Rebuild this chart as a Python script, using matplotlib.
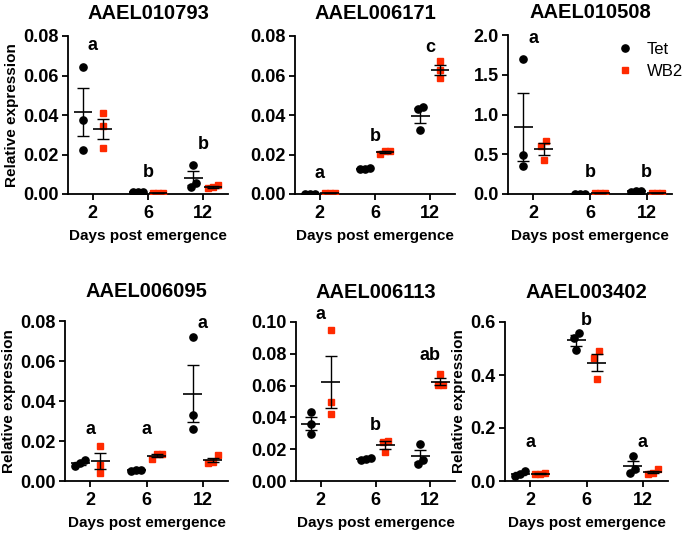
import numpy as np
import matplotlib
matplotlib.use("Agg")
import matplotlib.pyplot as plt

plt.rcParams["font.family"] = ["Liberation Sans", "DejaVu Sans"]
plt.rcParams["font.weight"] = "bold"

# dados
dias = ["2", "6", "12"]
genes = ["AAEL010793", "AAEL006171", "AAEL010508",
         "AAEL006095", "AAEL006113", "AAEL003402"]

tet = {
    "AAEL010793": [[0.0645, 0.0375, 0.0224], [0.0008, 0.0008, 0.0008], [0.0148, 0.0056, 0.0034]],
    "AAEL006171": [[0.0002, 0.0002, 0.0002], [0.0125, 0.0132, 0.0127], [0.0438, 0.0430, 0.0322]],
    "AAEL010508": [[1.698, 0.49, 0.348], [0.005, 0.005, 0.005], [0.030, 0.040, 0.035]],
    "AAEL006095": [[0.0103, 0.0073, 0.0088], [0.0052, 0.0055, 0.0053], [0.072, 0.033, 0.0262]],
    "AAEL006113": [[0.0434, 0.0356, 0.0294], [0.0136, 0.0147, 0.0134], [0.0231, 0.0105, 0.0130]],
    "AAEL003402": [[0.0176, 0.0365, 0.0277], [0.560, 0.540, 0.493], [0.0956, 0.044, 0.030]],
}
wb2 = {
    "AAEL010793": [[0.041, 0.0345, 0.0232], [0.0007, 0.0007, 0.0007], [0.0030, 0.0044, 0.0035]],
    "AAEL006171": [[0.0003, 0.0003, 0.0003], [0.0202, 0.0218, 0.0218], [0.0672, 0.0630, 0.0585]],
    "AAEL010508": [[0.671, 0.60, 0.432], [0.010, 0.010, 0.010], [0.015, 0.015, 0.015]],
    "AAEL006095": [[0.0173, 0.0082, 0.0042], [0.0112, 0.0133, 0.0133], [0.0128, 0.0095, 0.0092]],
    "AAEL006113": [[0.0952, 0.0497, 0.0419], [0.0252, 0.0182, 0.0245], [0.0671, 0.0602, 0.0602]],
    "AAEL003402": [[0.027, 0.030, 0.025], [0.489, 0.465, 0.384], [0.044, 0.030, 0.028]],
}
letras = {
    "AAEL010793": [("a", 0.075), ("b", 0.011), ("b", 0.025)],
    "AAEL006171": [("a", 0.0105), ("b", 0.029), ("c", 0.074)],
    "AAEL010508": [("a", 1.95), ("b", 0.27), ("b", 0.27)],
    "AAEL006095": [("a", 0.026), ("a", 0.026), ("a", 0.079)],
    "AAEL006113": [("a", 0.105), ("b", 0.035), ("ab", 0.079)],
    "AAEL003402": [("a", 0.147), ("b", 0.604), ("a", 0.147)],
}
ylims = {
    "AAEL010793": (0.08, 0.02, "%.2f"),
    "AAEL006171": (0.08, 0.02, "%.2f"),
    "AAEL010508": (2.0, 0.5, "%.1f"),
    "AAEL006095": (0.08, 0.02, "%.2f"),
    "AAEL006113": (0.10, 0.02, "%.2f"),
    "AAEL003402": (0.6, 0.2, "%.1f"),
}

W, H = 685, 535
# caixas dos eixos em pixels: esquerda, direita, topo, base
caixas = [(68, 228, 36, 194), (295, 455, 36, 194), (508, 672, 35, 194),
          (65, 228, 321, 481), (296, 455, 322, 481), (505, 668, 322, 481)]
com_ylabel = [True, False, False, True, False, True]
pad_titulo = [12, 12, 12, 17, 17, 17]

VERMELHO = "#ff2a00"


def espalhar(vals, ymax, passo=0.09):
    # espalha pontos sobrepostos, estilo GraphPad
    vals = np.asarray(vals)
    ordem = np.argsort(vals)
    offs = np.zeros(len(vals))
    grupos, atual = [], [ordem[0]]
    for i in ordem[1:]:
        if abs(vals[i] - vals[atual[-1]]) < 0.045 * ymax:
            atual.append(i)
        else:
            grupos.append(atual)
            atual = [i]
    grupos.append(atual)
    for g in grupos:
        n = len(g)
        for k, i in enumerate(g):
            offs[i] = (k - (n - 1) / 2) * passo
    return offs


def grupo(ax, x, vals, cor, marcador, ymax):
    vals = np.asarray(vals)
    m = vals.mean()
    sem = vals.std(ddof=1) / np.sqrt(len(vals))
    ax.plot(x + espalhar(vals, ymax), vals, linestyle="none", marker=marcador,
            ms=5.2 if marcador == "o" else 5.0, color=cor, zorder=3)
    ax.hlines(m, x - 0.17, x + 0.17, color="black", lw=1.2, zorder=4)
    ax.errorbar(x, m, yerr=sem, fmt="none", ecolor="black", elinewidth=1.0,
                capsize=4, capthick=1.0, zorder=4)


fig = plt.figure(figsize=(W / 100, H / 100), dpi=100)

for gene, (l, r, t, b), ylab, pt in zip(genes, caixas, com_ylabel, pad_titulo):
    ax = fig.add_axes([l / W, 1 - b / H, (r - l) / W, (b - t) / H])
    ymax, passo, fmt = ylims[gene]
    pos = np.arange(len(dias))
    for i in pos:
        grupo(ax, i - 0.18, tet[gene][i], "black", "o", ymax)
        grupo(ax, i + 0.18, wb2[gene][i], VERMELHO, "s", ymax)
        txt, yl = letras[gene][i]
        ax.text(i, yl, txt, ha="center", va="center", fontsize=13,
                fontweight="bold", clip_on=False)

    ax.set_xlim(-0.45, 2.45)
    ax.set_ylim(0, ymax)
    ax.set_yticks(np.arange(0, ymax + passo / 2, passo))
    ax.yaxis.set_major_formatter(matplotlib.ticker.FormatStrFormatter(fmt))
    ax.set_xticks(pos)
    ax.set_xticklabels(dias)
    for s in ["top", "right"]:
        ax.spines[s].set_visible(False)
    for s in ["left", "bottom"]:
        ax.spines[s].set_linewidth(1.3)
    ax.tick_params(direction="out", length=4.5, width=1.3, labelsize=13)
    ax.tick_params(axis="y", pad=2)
    for lab in ax.get_xticklabels() + ax.get_yticklabels():
        lab.set_fontweight("bold")
    ax.set_title(gene, fontsize=14.5, fontweight="bold", pad=pt)
    ax.set_xlabel("Days post emergence", fontsize=11, fontweight="bold", labelpad=5)
    if ylab:
        ax.set_ylabel("Relative expression", fontsize=11, fontweight="bold", labelpad=3)

    if gene == "AAEL010508":
        h1, = ax.plot([], [], "o", color="black", ms=5.2, linestyle="none")
        h2, = ax.plot([], [], "s", color=VERMELHO, ms=5.0, linestyle="none")
        ax.legend([h1, h2], ["Tet", "WB2"], loc="upper right", frameon=False,
                  prop={"size": 12, "weight": "normal"}, handletextpad=0.35,
                  borderaxespad=0.0, bbox_to_anchor=(1.11, 1.0), labelspacing=0.45)

fig.savefig("out.png", dpi=100)
